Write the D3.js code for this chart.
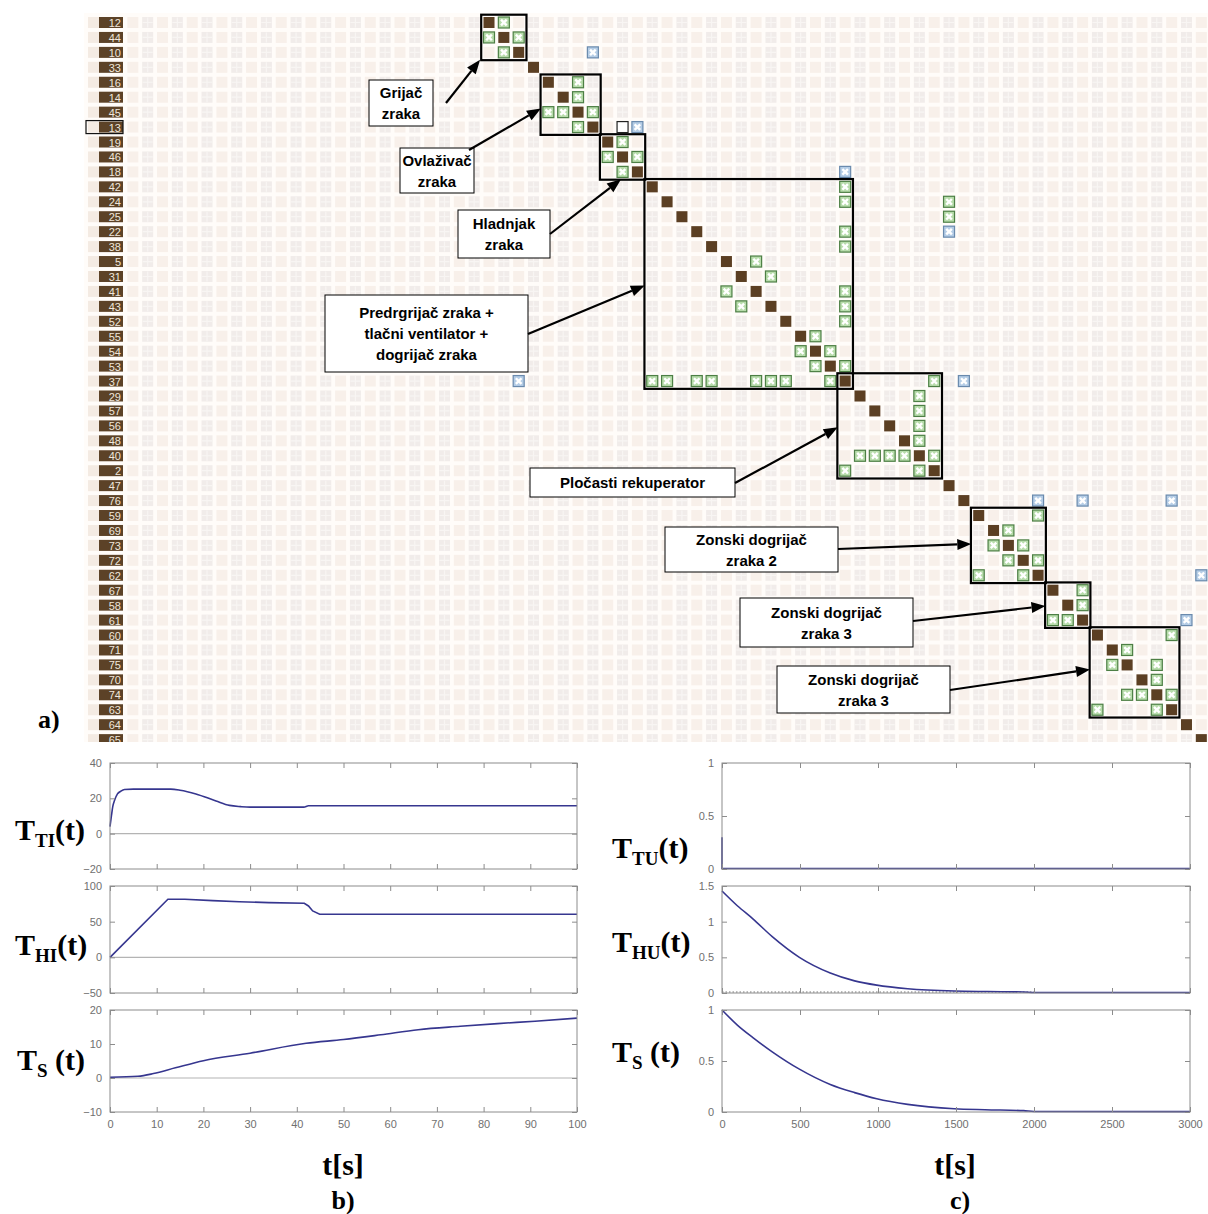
<!DOCTYPE html>
<html><head><meta charset="utf-8">
<script src="https://cdn.jsdelivr.net/npm/d3@7"></script>
<style>body{margin:0;background:#fff;} svg{display:block}</style>
</head><body>
<svg id="c" width="1208" height="1214"></svg>
<script>
// ---------- DATA ----------
const rowLabels = ["12","44","10","33","16","14","45","13","19","46","18","42","24","25","22","38","5","31","41","43","52","55","54","53","37","29","57","56","48","40","2","47","76","59","69","73","72","62","67","58","61","60","71","75","70","74","63","64","65"];
const selectedRow = 7;
const greenMarks = [[0,1],[1,0],[1,2],[2,1],[4,6],[5,6],[6,4],[6,5],[6,7],[7,6],[8,9],[9,8],[9,10],[10,9],
 [11,24],[12,24],[12,31],[13,31],[14,24],[15,24],[16,18],[17,19],[18,16],[18,24],[19,17],[19,24],[20,24],
 [21,22],[22,21],[22,23],[23,22],[23,24],[24,11],[24,12],[24,14],[24,15],[24,18],[24,19],[24,20],[24,23],
 [24,30],[25,29],[26,29],[27,29],[28,29],[29,25],[29,26],[29,27],[29,28],[29,30],[30,24],[30,29],
 [33,37],[34,35],[35,34],[35,36],[36,35],[36,37],[37,33],[37,36],[38,40],[39,40],[40,38],[40,39],
 [41,46],[42,43],[43,42],[43,45],[44,45],[45,43],[45,44],[45,46],[46,41],[46,45]];
const blueMarks = [[2,7],[7,10],[10,24],[14,31],[24,2],[24,32],[32,37],[32,40],[32,46],[37,48],[40,47]];
const emptyMarks = [[7,9]];
const blocks = [[0,2],[4,7],[8,10],[11,24],[24,30],[33,37],[38,40],[41,46]];
const annotations = [
  {lines:["Grijač","zraka"], box:[369,80,64,46], from:[446,103], tip:[-0.6,2.5]},
  {lines:["Ovlaživač","zraka"], box:[400,148,74,45], from:[469,150], tip:[3.5,5.75]},
  {lines:["Hladnjak","zraka"], box:[458,210,92,48], from:[550,234], tip:[8.9,10.5]},
  {lines:["Predrgrijač zraka +","tlačni ventilator +","dogrijač zraka"], box:[325,295,203,77], from:[528,334], tip:[10.5,17.6]},
  {lines:["Pločasti rekuperator"], box:[530,468,205,29], from:[735,483], tip:[23.5,27.1]},
  {lines:["Zonski dogrijač","zraka 2"], box:[665,527,173,45], from:[838,549], tip:[32.5,34.9]},
  {lines:["Zonski dogrijač","zraka 3"], box:[740,598,173,49], from:[913,621], tip:[37.5,39.05]},
  {lines:["Zonski dogrijač","zraka 3"], box:[777,666,173,47], from:[950,690], tip:[40.5,43.3]}
];

// time responses
const bTicksX = [0,10,20,30,40,50,60,70,80,90,100];
const cTicksX = [0,500,1000,1500,2000,2500,3000];
const tti = [[0,4],[0.3,10],[0.6,15.4],[1,19],[1.6,22.5],[2.3,24],[3.1,25],[5,25.2],[13,25.2],[15,24.6],[18.4,22.5],[22.7,18.5],[25.6,16],[28,15.3],[30,15],[41.5,15],[42.5,15.8],[100,15.8]];
const thi = [[0,0],[12.4,81.5],[16,81.5],[22,79.5],[27.7,78],[34,76.7],[41.6,75.8],[42.5,72],[43.4,65],[44.9,60.5],[100,60.5]];
const tsb = [[0,0.2],[6,0.5],[9.3,1.3],[14,3],[20,5.1],[30,7.3],[42,10.2],[50,11.3],[58,12.7],[66,14.2],[75,15.2],[83,16.0],[91,16.7],[100,17.6]];
const ttu = [[0,0.3],[0,0.005],[3000,0.005]];
const thu = [[0,1.43],[100,1.22],[198,1.04],[322,0.79],[496,0.5],[694,0.28],[850,0.17],[992,0.11],[1190,0.06],[1488,0.027],[1700,0.02],[1934,0.015],[2000,0.006],[3000,0.006]];
const tsc = [[0,1],[100,0.85],[198,0.73],[322,0.59],[496,0.42],[694,0.27],[850,0.19],[992,0.13],[1190,0.075],[1488,0.032],[1686,0.022],[1934,0.013],[2000,0.005],[3000,0.004]];

const panels = [
  {data:tti, smooth:true, xd:[0,100], xr:[110,577], yd:[-20,40], yr:[869,763], yt:[-20,0,20,40], xt:bTicksX, showX:false, zero:"solid", label:["T","TI","(t)"], lp:[15,840]},
  {data:thi, smooth:false, xd:[0,100], xr:[110,577], yd:[-50,100], yr:[993,886], yt:[-50,0,50,100], xt:bTicksX, showX:false, zero:"solid", label:["T","HI","(t)"], lp:[15,955]},
  {data:tsb, smooth:true, xd:[0,100], xr:[110,577], yd:[-10,20], yr:[1112,1010], yt:[-10,0,10,20], xt:bTicksX, showX:true, zero:"solid", label:["T","S"," (t)"], lp:[17,1070]},
  {data:ttu, smooth:false, xd:[0,3000], xr:[722,1190], yd:[0,1], yr:[869,763], yt:[0,0.5,1], xt:cTicksX, showX:false, zero:null, label:["T","TU","(t)"], lp:[612,858]},
  {data:thu, smooth:true, xd:[0,3000], xr:[722,1190], yd:[0,1.5], yr:[993,886], yt:[0,0.5,1,1.5], xt:cTicksX, showX:false, zero:"dot", label:["T","HU","(t)"], lp:[612,952]},
  {data:tsc, smooth:true, xd:[0,3000], xr:[722,1190], yd:[0,1], yr:[1112,1010], yt:[0,0.5,1], xt:cTicksX, showX:true, zero:null, label:["T","S"," (t)"], lp:[612,1062]}
];

// ---------- DRAW ----------
const svg = d3.select("#c");
const serif = "'Liberation Serif','Times New Roman',serif";
const sans = "'Liberation Sans',Arial,sans-serif";

const xk = d3.scaleLinear().domain([0,1]).range([489, 489+14.84]);
const yr = d3.scaleLinear().domain([0,1]).range([22.5, 22.5+14.94]);
const kMin = -24, kMax = 49;
const cs = 11;

svg.append("defs").append("clipPath").attr("id","mclip")
  .append("rect").attr("x",0).attr("y",13).attr("width",1208).attr("height",729);
const m = svg.append("g").attr("clip-path","url(#mclip)");
m.append("rect").attr("x",84).attr("y",13).attr("width",1124).attr("height",729).attr("fill","#fffcf9");

const cells = [];
rowLabels.forEach((_,r)=>{ for(let k=kMin;k<=kMax;k++) cells.push([r,k]); });
m.append("g").selectAll("rect").data(cells).join("rect")
  .attr("x",d=>xk(d[1])-cs/2).attr("y",d=>yr(d[0])-cs/2).attr("width",cs).attr("height",cs)
  .attr("fill",d=>((d[1]-kMin)%2===0)?"#f8f0ea":"#f1ecea");
m.append("g").selectAll("path").data(cells.filter(d=>(d[1]-kMin)%2===1)).join("path")
  .attr("d",d=>{const x=xk(d[1]),y=yr(d[0]);return `M${x-5},${y}H${x+5}M${x},${y-5}V${y+5}`;})
  .attr("stroke","#f8f5f3").attr("stroke-width",1.2);

const lab = m.append("g");
lab.selectAll("rect.lb").data(rowLabels).join("rect").attr("class","lb")
  .attr("x",88).attr("y",(d,i)=>yr(i)-cs/2).attr("width",11).attr("height",cs).attr("fill","#f4ebe3");
lab.selectAll("rect.ld").data(rowLabels).join("rect").attr("class","ld")
  .attr("x",99).attr("y",(d,i)=>yr(i)-cs/2).attr("width",24).attr("height",cs).attr("fill","#5c4227");
lab.selectAll("text").data(rowLabels).join("text")
  .attr("x",121).attr("y",(d,i)=>yr(i)+4.5).attr("text-anchor","end")
  .attr("font-family",sans).attr("font-size",11).attr("fill","#efe6dc").text(d=>d);
lab.append("rect").attr("x",86).attr("y",yr(selectedRow)-cs/2-1).attr("width",37).attr("height",cs+2)
  .attr("fill","none").attr("stroke","#111").attr("stroke-width",1.2);

m.append("g").selectAll("rect").data(rowLabels.map((_,i)=>i)).join("rect")
  .attr("x",d=>xk(d)-cs/2).attr("y",d=>yr(d)-cs/2).attr("width",cs).attr("height",cs).attr("fill","#5b3f23");

function xMarks(data, fill, stroke){
  const g = m.append("g").selectAll("g").data(data).join("g")
    .attr("transform",d=>`translate(${xk(d[1])},${yr(d[0])})`);
  g.append("rect").attr("x",-5.5).attr("y",-5.5).attr("width",11).attr("height",11)
    .attr("fill",fill).attr("stroke",stroke).attr("stroke-width",1.2);
  g.append("path").attr("d","M-2.8,-2.8L2.8,2.8M2.8,-2.8L-2.8,2.8").attr("stroke","#fff").attr("stroke-width",2.4);
}
xMarks(greenMarks,"#b7dcab","#4d7f45");
xMarks(blueMarks,"#b5cde6","#6a8aad");
m.append("g").selectAll("rect").data(emptyMarks).join("rect")
  .attr("x",d=>xk(d[1])-5.5).attr("y",d=>yr(d[0])-5.5).attr("width",11).attr("height",11)
  .attr("fill","#fff").attr("stroke","#222").attr("stroke-width",1.2);

m.append("g").selectAll("rect").data(blocks).join("rect")
  .attr("x",d=>xk(d[0])-7.8).attr("y",d=>yr(d[0])-7.8)
  .attr("width",d=>xk(d[1])-xk(d[0])+15.6).attr("height",d=>yr(d[1])-yr(d[0])+15.6)
  .attr("fill","none").attr("stroke","#000").attr("stroke-width",2.2);

const ag = svg.append("g");
annotations.forEach(a=>{
  const [bx,by,bw,bh]=a.box;
  ag.append("rect").attr("x",bx).attr("y",by).attr("width",bw).attr("height",bh)
    .attr("fill","#fff").attr("stroke","#000").attr("stroke-width",1);
  const n=a.lines.length, lh=21, cy=by+bh/2;
  a.lines.forEach((t,i)=>{
    ag.append("text").attr("x",bx+bw/2).attr("y",cy+(i-(n-1)/2)*lh+5.5)
      .attr("text-anchor","middle").attr("font-family",sans).attr("font-weight","bold")
      .attr("font-size",15).attr("fill","#000").text(t);
  });
  const [x1,y1]=a.from, x2=xk(a.tip[0]), y2=yr(a.tip[1]);
  const ang=Math.atan2(y2-y1,x2-x1), L=14, W=5.5;
  const bxp=x2-L*Math.cos(ang), byp=y2-L*Math.sin(ang);
  ag.append("line").attr("x1",x1).attr("y1",y1).attr("x2",bxp).attr("y2",byp).attr("stroke","#000").attr("stroke-width",2.2);
  ag.append("path").attr("d",`M${x2},${y2}L${bxp+W*Math.sin(ang)},${byp-W*Math.cos(ang)}L${bxp-W*Math.sin(ang)},${byp+W*Math.cos(ang)}Z`).attr("fill","#000");
});

svg.append("text").attr("x",38).attr("y",728).attr("font-family",serif).attr("font-weight","bold")
  .attr("font-size",26).text("a)");

panels.forEach(p=>{
  const x=d3.scaleLinear().domain(p.xd).range(p.xr);
  const y=d3.scaleLinear().domain(p.yd).range(p.yr);
  const g=svg.append("g");
  const axc="#8c8c8c";
  if(p.zero==="solid") g.append("line").attr("x1",p.xr[0]).attr("x2",p.xr[1]).attr("y1",y(0)).attr("y2",y(0)).attr("stroke","#b4b4b4").attr("stroke-width",1.2);
  if(p.zero==="dot") g.append("line").attr("x1",p.xr[0]).attr("x2",x(2000)).attr("y1",y(0)-1).attr("y2",y(0)-1).attr("stroke","#777").attr("stroke-width",1).attr("stroke-dasharray","1.5,2");
  g.append("path").datum(p.data).attr("d",d3.line().curve(p.smooth?d3.curveMonotoneX:d3.curveLinear).x(d=>x(d[0])).y(d=>y(d[1])))
    .attr("fill","none").attr("stroke","#36368f").attr("stroke-width",1.6);
  g.append("rect").attr("x",p.xr[0]).attr("y",p.yr[1]).attr("width",p.xr[1]-p.xr[0]).attr("height",p.yr[0]-p.yr[1])
    .attr("fill","none").attr("stroke",axc).attr("stroke-width",1);
  const bot=d3.axisBottom(x).tickValues(p.xt).tickSizeInner(-5).tickSizeOuter(0).tickPadding(8).tickFormat(p.showX?d3.format("d"):"");
  const top=d3.axisTop(x).tickValues(p.xt).tickSizeInner(-5).tickSizeOuter(0).tickFormat("");
  const lef=d3.axisLeft(y).tickValues(p.yt).tickSizeInner(-5).tickSizeOuter(0).tickPadding(8).tickFormat(d3.format(""));
  const rig=d3.axisRight(y).tickValues(p.yt).tickSizeInner(-5).tickSizeOuter(0).tickFormat("");
  [[bot,`translate(0,${p.yr[0]})`],[top,`translate(0,${p.yr[1]})`],[lef,`translate(${p.xr[0]},0)`],[rig,`translate(${p.xr[1]},0)`]].forEach(([ax,tr])=>{
    const a=g.append("g").attr("transform",tr).call(ax);
    a.select(".domain").remove();
    a.selectAll("line").attr("stroke",axc);
    a.selectAll("text").attr("font-family",sans).attr("font-size",11).attr("fill","#707070");
  });
  const t=svg.append("text").attr("x",p.lp[0]).attr("y",p.lp[1]).attr("font-family",serif).attr("font-weight","bold").attr("font-size",30);
  t.append("tspan").text(p.label[0]);
  t.append("tspan").attr("font-size",19).attr("dy",7).text(p.label[1]);
  t.append("tspan").attr("dy",-7).text(p.label[2]);
});

svg.append("text").attr("x",343).attr("y",1175).attr("text-anchor","middle").attr("font-family",serif).attr("font-weight","bold").attr("font-size",30).text("t[s]");
svg.append("text").attr("x",343).attr("y",1209).attr("text-anchor","middle").attr("font-family",serif).attr("font-weight","bold").attr("font-size",26).text("b)");
svg.append("text").attr("x",955).attr("y",1175).attr("text-anchor","middle").attr("font-family",serif).attr("font-weight","bold").attr("font-size",30).text("t[s]");
svg.append("text").attr("x",960).attr("y",1209).attr("text-anchor","middle").attr("font-family",serif).attr("font-weight","bold").attr("font-size",26).text("c)");
</script>
</body></html>
